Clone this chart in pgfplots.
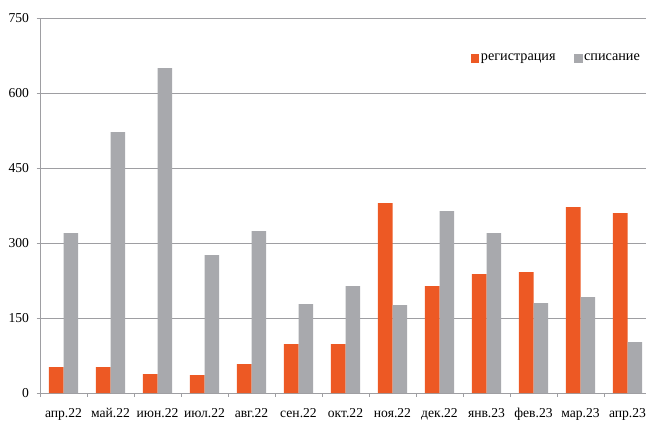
\documentclass[border=0pt]{standalone}
\usepackage{fontspec}
\setmainfont{Liberation Serif}
\usepackage{pgfplots}
\pgfplotsset{compat=1.18}
\definecolor{reg}{RGB}{237,89,36}
\definecolor{spis}{RGB}{168,169,173}
\definecolor{gridc}{RGB}{158,158,162}
\begin{document}
\begin{tikzpicture}
\begin{axis}[
  at={(40bp,28bp)}, anchor=south west,
  scale only axis, width=611bp, height=375bp,
  ybar=0pt, bar width=14.6bp,
  xmin=0.5, xmax=13.5, ymin=0, ymax=750,
  axis lines*=left,
  tick align=outside,
  ytick={0,150,...,750},
  xtick={0.5,1.5,...,13.5}, xticklabels={},
  extra x ticks={1,...,13},
  extra x tick labels={апр.22,май.22,июн.22,июл.22,авг.22,сен.22,окт.22,ноя.22,дек.22,янв.23,фев.23,мар.23,апр.23},
  extra x tick style={major tick length=0pt},
  major tick length=3.5bp,
  ymajorgrids,
  grid style={draw=gridc, line width=1bp},
  axis line style={draw=gridc, line width=1bp},
  tick style={draw=gridc, line width=0.8bp},
  tick label style={font=\rmfamily\fontsize{13.6bp}{16bp}\selectfont},
  /pgf/number format/assume math mode=true,
  yticklabel style={xshift=-4bp},
  xticklabel style={yshift=-12bp},
  clip=false,
  legend style={at={(0.705,0.893)}, anchor=west, draw=none, fill=none,
    inner sep=0pt, font=\rmfamily\fontsize{14.2bp}{16bp}\selectfont,
    /tikz/every even column/.append style={column sep=17bp},
    nodes={inner xsep=1.5bp, inner ysep=1bp}},
  legend columns=-1,
  legend image code/.code={\fill[#1] (0bp,-4.5bp) rectangle (8.5bp,4.5bp);},
]
\addplot[fill=reg, draw=none] coordinates {
(1,52) (2,52) (3,38) (4,36) (5,58) (6,98) (7,98) (8,380) (9,214) (10,238) (11,242) (12,372) (13,360)};
\addplot[fill=spis, draw=none] coordinates {
(1,320) (2,522) (3,650) (4,276) (5,324) (6,178) (7,214) (8,176) (9,364) (10,320) (11,180) (12,192) (13,102)};
\legend{регистрация,списание}
\end{axis}
\pgfresetboundingbox
\useasboundingbox (0,0) rectangle (646bp,421bp);
\end{tikzpicture}
\end{document}
